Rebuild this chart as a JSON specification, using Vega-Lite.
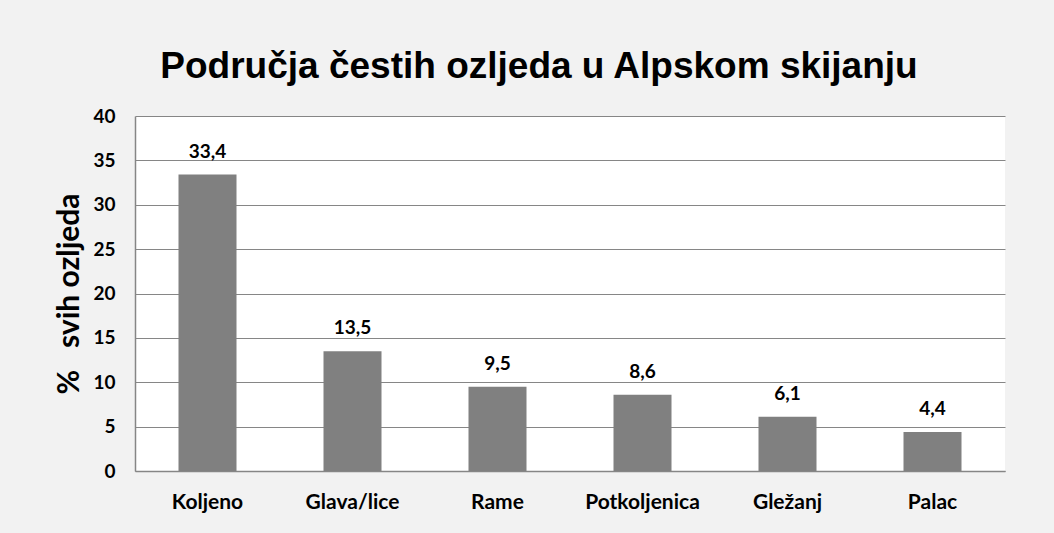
{
  "$schema": "https://vega.github.io/schema/vega-lite/v6.json",
  "width": 870,
  "height": 355,
  "autosize": {"type": "none"},
  "padding": {"left": 135, "top": 116, "right": 49, "bottom": 62},
  "background": "#f2f2f2",
  "title": {
    "text": "Područja čestih ozljeda u Alpskom skijanju",
    "font": "Liberation Sans",
    "fontSize": 37,
    "fontWeight": "bold",
    "color": "#000000",
    "anchor": "middle",
    "frame": "group",
    "baseline": "alphabetic",
    "dx": -31,
    "offset": -8
  },
  "data": {
    "values": [
      {"category": "Koljeno", "value": 33.4},
      {"category": "Glava/lice", "value": 13.5},
      {"category": "Rame", "value": 9.5},
      {"category": "Potkoljenica", "value": 8.6},
      {"category": "Gležanj", "value": 6.1},
      {"category": "Palac", "value": 4.4}
    ]
  },
  "encoding": {
    "x": {
      "field": "category",
      "type": "nominal",
      "sort": null,
      "scale": {"paddingInner": 0.6, "paddingOuter": 0.3},
      "axis": {
        "title": null,
        "labelAngle": 0,
        "labelFont": "Lato",
        "labelFontSize": 21,
        "labelFontWeight": "bold",
        "labelColor": "#000000",
        "labelPadding": 20,
        "ticks": false,
        "domainColor": "#868686",
        "domainWidth": 1.5,
        "grid": false
      }
    },
    "y": {
      "field": "value",
      "type": "quantitative",
      "scale": {"domain": [0, 40], "nice": false},
      "axis": {
        "title": "%\u00a0\u00a0\u00a0svih ozljeda",
        "titleFont": "Lato",
        "titleFontSize": 30,
        "titleFontWeight": "bold",
        "titleColor": "#000000",
        "titlePadding": 8,
        "values": [0, 5, 10, 15, 20, 25, 30, 35, 40],
        "labelFont": "Lato",
        "labelFontSize": 19,
        "labelFontWeight": "bold",
        "labelColor": "#000000",
        "labelPadding": 20,
        "ticks": false,
        "domainColor": "#868686",
        "domainWidth": 1.5,
        "gridColor": "#868686",
        "gridWidth": 1.2,
        "gridOpacity": 1
      }
    }
  },
  "layer": [
    {"mark": {"type": "bar", "color": "#808080"}},
    {
      "mark": {
        "type": "text",
        "font": "Lato",
        "fontSize": 19,
        "fontWeight": "bold",
        "color": "#000000",
        "baseline": "alphabetic",
        "dy": -17
      },
      "encoding": {
        "text": {"field": "value", "type": "quantitative", "format": ".1f"}
      }
    }
  ],
  "config": {
    "view": {"fill": "#ffffff", "stroke": null},
    "locale": {
      "number": {
        "decimal": ",",
        "thousands": ".",
        "grouping": [3],
        "currency": ["", " €"]
      }
    }
  }
}
